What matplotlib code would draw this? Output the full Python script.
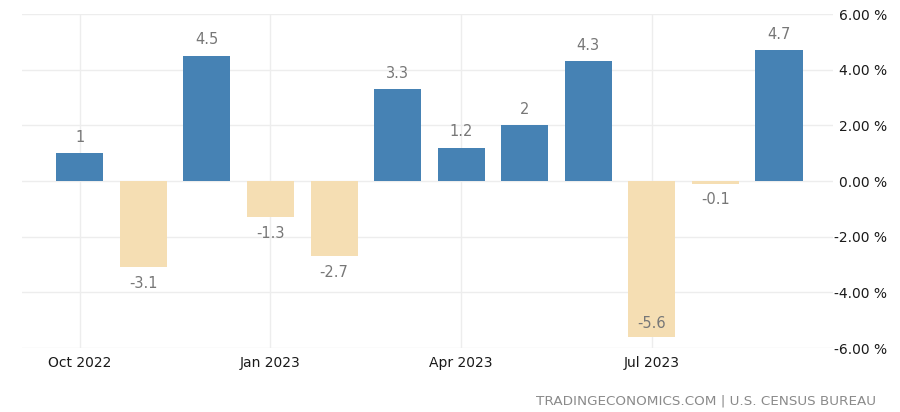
import matplotlib.pyplot as plt
import numpy as np

months = ['Oct 2022', 'Nov 2022', 'Dec 2022', 'Jan 2023', 'Feb 2023', 'Mar 2023',
          'Apr 2023', 'May 2023', 'Jun 2023', 'Jul 2023', 'Aug 2023', 'Sep 2023']
values = [1, -3.1, 4.5, -1.3, -2.7, 3.3, 1.2, 2, 4.3, -5.6, -0.1, 4.7]
tick_labels = ['Oct 2022', 'Jan 2023', 'Apr 2023', 'Jul 2023']
y_ticks = [-6, -4, -2, 0, 2, 4, 6]

blue = '#4682b4'
beige = '#f5deb3'

fig = plt.figure(figsize=(9, 4.12), dpi=100)
ax = fig.add_axes([0.0244, 0.155, 0.9012, 0.811])

x = np.arange(len(values))
colors = [blue if v >= 0 else beige for v in values]
ax.bar(x, values, width=0.74, color=colors, zorder=2)

# value labels
for xi, v in zip(x, values):
    label = f'{v:g}'
    if v >= 0:
        ax.annotate(label, (xi, v), xytext=(0, 6), textcoords='offset points',
                    ha='center', va='bottom', color='#777777', fontsize=10.5)
    elif v < -5:
        ax.annotate(label, (xi, v), xytext=(0, 4), textcoords='offset points',
                    ha='center', va='bottom', color='#777777', fontsize=10.5)
    else:
        ax.annotate(label, (xi, v), xytext=(0, -6), textcoords='offset points',
                    ha='center', va='top', color='#777777', fontsize=10.5)

ax.set_xlim(-0.91, len(values) - 1 + 0.85)
ax.set_ylim(-6, 6)

tick_pos = [months.index(t) for t in tick_labels]
ax.set_xticks(tick_pos)
ax.set_xticklabels(tick_labels, fontsize=10, color='#1a1a1a')
ax.tick_params(axis='x', length=0, pad=6)

ax.yaxis.tick_right()
ax.set_yticks(y_ticks)
ax.set_yticklabels([f'{t:.2f} %' for t in y_ticks], fontsize=10, color='#1a1a1a')
for lab in ax.get_yticklabels():
    lab.set_horizontalalignment('right')
ax.tick_params(axis='y', length=0, pad=39)

ax.grid(True, color='#ededed', linewidth=1, zorder=0)
for s in ax.spines.values():
    s.set_visible(False)

fig.text(0.973, 0.012, 'TRADINGECONOMICS.COM | U.S. CENSUS BUREAU',
         ha='right', va='bottom', color='#8a8a8a', fontsize=9.7)

fig.savefig('out.png', dpi=100)
